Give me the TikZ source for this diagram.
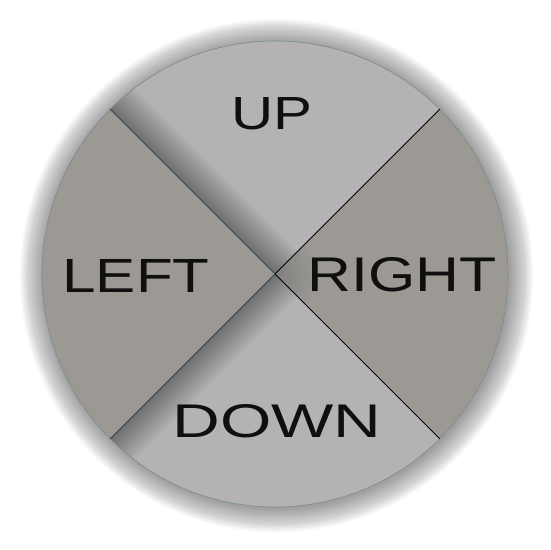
\documentclass[tikz,border=0pt]{standalone}
\usepackage{fontspec}
\setmainfont{Liberation Sans}
\usepackage{graphicx}
\definecolor{lightsec}{RGB}{180,178,180}
\definecolor{darksec}{RGB}{156,153,148}
\definecolor{rimcol}{RGB}{120,140,140}
\definecolor{leftline}{RGB}{45,75,75}
\definecolor{txt}{RGB}{15,15,15}
\begin{document}
\begin{tikzpicture}[x=1pt,y=1pt,
  lbl/.style={text=txt, inner sep=0pt},
  light/.style={fill=lightsec},
  darkpart/.style={fill=darksec},
  blackline/.style={draw=black, line width=1pt},
  tealline/.style={draw=leftline, line width=0.8pt}]
\useasboundingbox (0,0) rectangle (550,550);
\def\R{233}
% outer soft shadow
\foreach \i in {1,...,40} \fill[black, opacity=0.011] (276.5,274.5) circle ({\R+0.6*\i});
% sectors
\fill[light] (275,276) -- ++(45:\R) arc[start angle=45, end angle=135, radius=\R] -- cycle;
\fill[darkpart] (275,276) -- ++(135:\R) arc[start angle=135, end angle=225, radius=\R] -- cycle;
\fill[light] (275,276) -- ++(225:\R) arc[start angle=225, end angle=315, radius=\R] -- cycle;
\fill[darkpart] (275,276) -- ++(-45:\R) arc[start angle=-45, end angle=45, radius=\R] -- cycle;
% shadow in UP along left edge
\begin{scope}
\clip (275,276) -- ++(45:\R) arc[start angle=45, end angle=135, radius=\R] -- cycle;
\begin{scope}[shift={(275,276)}, rotate=135]
\foreach \w in {1,...,32} \fill[black, opacity=0.012] (0,-\w) rectangle (250,0);
\end{scope}
\end{scope}
% shadow in DOWN along left edge
\begin{scope}
\clip (275,276) -- ++(225:\R) arc[start angle=225, end angle=315, radius=\R] -- cycle;
\begin{scope}[shift={(275,276)}, rotate=225]
\foreach \w in {1,...,32} \fill[black, opacity=0.012] (0,0) rectangle (250,\w);
\end{scope}
\end{scope}
% dark spot in RIGHT near centre
\begin{scope}
\clip (275,276) -- ++(-45:\R) arc[start angle=-45, end angle=45, radius=\R] -- cycle;
\shade[inner color=black!50, outer color=darksec] (275,276) circle (44);
\end{scope}
% rim
\draw[rimcol, line width=0.6pt] (275,276) circle (\R);
% dividing lines
\coordinate (ctr) at (275,276);
\path (ctr) ++(45:\R) coordinate (pur);
\path (ctr) ++(-45:\R) coordinate (plr);
\path (ctr) ++(135:\R) coordinate (pul);
\path (ctr) ++(225:\R) coordinate (pll);
\draw[blackline] (ctr) -- (pur);
\draw[blackline] (ctr) -- (plr);
\draw[tealline] (ctr) -- (pul);
\draw[tealline] (ctr) -- (pll);
% labels
\node[lbl] (up) at (272,436) {\resizebox{81pt}{32pt}{UP}};
\node[lbl] (left) at (136,274) {\resizebox{147pt}{33pt}{LEFT}};
\node[lbl] (right) at (402,275) {\resizebox{189pt}{34pt}{RIGHT}};
\node[lbl] (down) at (277,129) {\resizebox{209pt}{33pt}{DOWN}};
\end{tikzpicture}
\end{document}
